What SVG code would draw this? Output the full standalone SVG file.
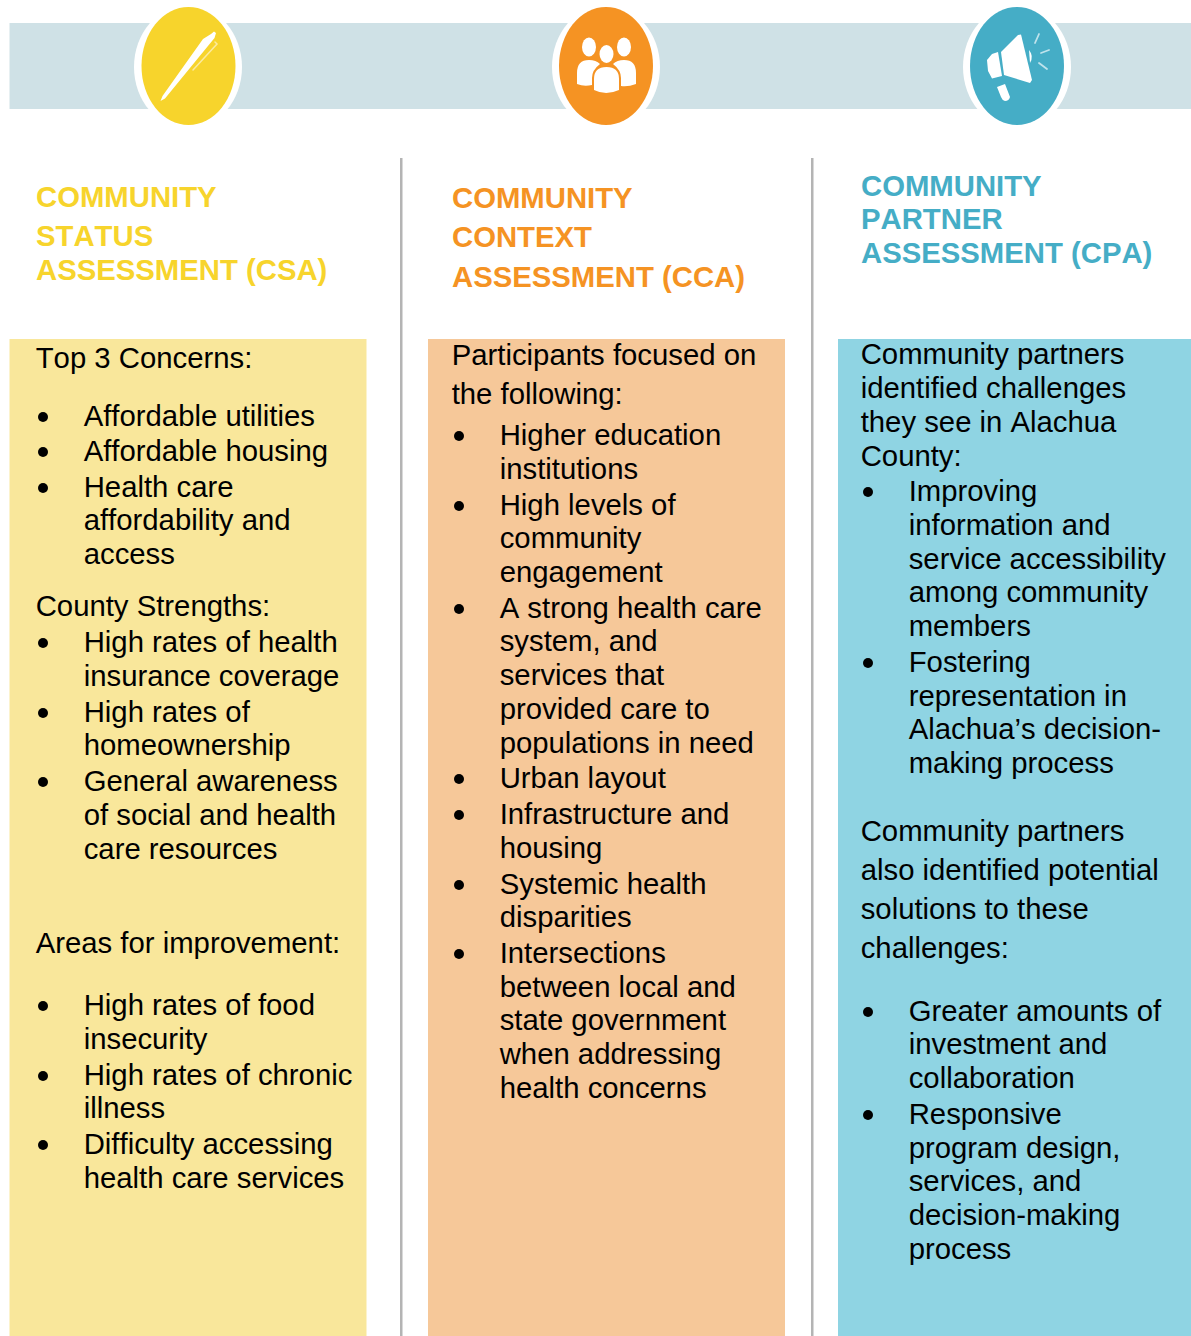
<svg xmlns="http://www.w3.org/2000/svg" width="1191" height="1336" viewBox="0 0 1191 1336">
<style>
text{font-family:"Liberation Sans",Arial,sans-serif;font-size:29.3px;fill:#000;font-kerning:none}
.h{font-weight:bold}
text.y{fill:#f7d42c}text.o{fill:#f59323}text.b{fill:#45adc6}
.wl{stroke-linecap:round;fill:none}
circle.d{fill:#000}
</style>
<rect width="1191" height="1336" fill="#fff"/>
<rect x="9.5" y="23" width="1181.5" height="86" fill="#cfe1e6"/>
<rect x="9.5" y="339" width="357" height="997" fill="#f9e79b"/>
<rect x="428" y="339" width="357" height="997" fill="#f6c899"/>
<rect x="838" y="339" width="353" height="997" fill="#8fd4e3"/>
<rect x="400" y="158" width="2.5" height="1178" fill="#b4b4b4"/>
<rect x="811" y="158" width="2.5" height="1178" fill="#b4b4b4"/>

<g id="icon-csa">
<ellipse cx="188" cy="67" rx="54" ry="62" fill="#fff"/>
<ellipse cx="188.500" cy="66" rx="47" ry="59" fill="#f7d42c"/>
<path fill="#fff" d="M160.500 101 L162.500 96 L203 39 L211 34 L214 31.500 L216 33 L214.500 38 L165 98.500 Z"/>
<path class="wl" d="M215 42 L217 44 L193 70" stroke="#fbeaa0" stroke-width="1.500"/>
</g>
<g id="icon-cca">
<ellipse cx="606" cy="67" rx="54" ry="62" fill="#fff"/>
<ellipse cx="606" cy="66" rx="47" ry="59" fill="#f59323"/>
<g fill="#fff">
<ellipse cx="589" cy="47" rx="7" ry="9.500"/><ellipse cx="624" cy="47" rx="7" ry="9.500"/>
<path d="M577 84 V73 Q577 60 589 60 Q596 60 600 64 Q592 70 592 78 V85 Q584 87 577 84Z"/>
<path d="M636 84 V73 Q636 60 624 60 Q617 60 613 64 Q621 70 621 78 V86 Q628 87 636 84Z"/>
<ellipse cx="606.500" cy="54" rx="7" ry="9"/>
<path d="M594 90 V79 Q594 67 606.500 67 Q619 67 619 79 V90 Q606 96 594 90Z"/>
</g>
</g>
<g id="icon-cpa">
<ellipse cx="1017" cy="67" rx="54" ry="62" fill="#fff"/>
<ellipse cx="1017" cy="66" rx="47" ry="59" fill="#45adc6"/>
<g fill="#fff">
<path d="M1001 52 L1018 35 L1021 34.500 L1032 80 L1030 83 L1004 75 Z"/>
<path d="M987 60 L992 54 L998 52 L1002 76 L992 78.500 L988 71 Z"/>
<path d="M997 87 L1005 84 L1010 97 Q1009 101 1005 101 Q1002 100 1001 97 Z"/>
<path d="M1029 50 Q1034 56 1030 63 Z"/>
</g>
<path class="wl" d="M1035 43 L1039 34 M1041 53 L1049 50 M1039 63 L1047 69" stroke="#bfe3ec" stroke-width="1.800"/>
</g>

<g id="col-csa">
<text class="h y" x="36" y="207">COMMUNITY</text>
<text class="h y" x="36" y="246">STATUS</text>
<text class="h y" x="36" y="280">ASSESSMENT (CSA)</text>
<text x="35.700" y="368">Top 3 Concerns:</text>
<text x="83.700" y="426">Affordable utilities</text>
<text x="83.700" y="461">Affordable housing</text>
<text x="83.700" y="497">Health care</text>
<text x="83.700" y="530">affordability and</text>
<text x="83.700" y="564">access</text>
<text x="35.700" y="616">County Strengths:</text>
<text x="83.700" y="652">High rates of health</text>
<text x="83.700" y="686">insurance coverage</text>
<text x="83.700" y="722">High rates of</text>
<text x="83.700" y="755">homeownership</text>
<text x="83.700" y="791">General awareness</text>
<text x="83.700" y="825">of social and health</text>
<text x="83.700" y="859">care resources</text>
<text x="35.700" y="953">Areas for improvement:</text>
<text x="83.700" y="1015">High rates of food</text>
<text x="83.700" y="1049">insecurity</text>
<text x="83.700" y="1085">High rates of chronic</text>
<text x="83.700" y="1118">illness</text>
<text x="83.700" y="1154">Difficulty accessing</text>
<text x="83.700" y="1188">health care services</text>
<g>
<circle class="d" cx="43" cy="417" r="5"/><circle class="d" cx="43" cy="452" r="5"/><circle class="d" cx="43" cy="488" r="5"/>
<circle class="d" cx="43" cy="643" r="5"/><circle class="d" cx="43" cy="713" r="5"/><circle class="d" cx="43" cy="782" r="5"/>
<circle class="d" cx="43" cy="1006" r="5"/><circle class="d" cx="43" cy="1076" r="5"/><circle class="d" cx="43" cy="1145" r="5"/>
</g>
</g>

<g id="col-cca">
<text class="h o" x="452" y="208">COMMUNITY</text>
<text class="h o" x="452" y="247">CONTEXT</text>
<text class="h o" x="452" y="287">ASSESSMENT (CCA)</text>
<text x="451.700" y="365">Participants focused on</text>
<text x="451.700" y="404">the following:</text>
<text x="499.700" y="445">Higher education</text>
<text x="499.700" y="479">institutions</text>
<text x="499.700" y="515">High levels of</text>
<text x="499.700" y="548">community</text>
<text x="499.700" y="582">engagement</text>
<text x="499.700" y="618">A strong health care</text>
<text x="499.700" y="651">system, and</text>
<text x="499.700" y="685">services that</text>
<text x="499.700" y="719">provided care to</text>
<text x="499.700" y="753">populations in need</text>
<text x="499.700" y="788">Urban layout</text>
<text x="499.700" y="824">Infrastructure and</text>
<text x="499.700" y="858">housing</text>
<text x="499.700" y="894">Systemic health</text>
<text x="499.700" y="927">disparities</text>
<text x="499.700" y="963">Intersections</text>
<text x="499.700" y="997">between local and</text>
<text x="499.700" y="1030">state government</text>
<text x="499.700" y="1064">when addressing</text>
<text x="499.700" y="1098">health concerns</text>
<g>
<circle class="d" cx="459" cy="436" r="5"/><circle class="d" cx="459" cy="506" r="5"/><circle class="d" cx="459" cy="609" r="5"/>
<circle class="d" cx="459" cy="779" r="5"/><circle class="d" cx="459" cy="815" r="5"/><circle class="d" cx="459" cy="885" r="5"/><circle class="d" cx="459" cy="954" r="5"/>
</g>
</g>

<g id="col-cpa">
<text class="h b" x="861" y="196">COMMUNITY</text>
<text class="h b" x="861" y="229">PARTNER</text>
<text class="h b" x="861" y="263">ASSESSMENT (CPA)</text>
<text x="860.700" y="364">Community partners</text>
<text x="860.700" y="398">identified challenges</text>
<text x="860.700" y="432">they see in Alachua</text>
<text x="860.700" y="466">County:</text>
<text x="908.700" y="501">Improving</text>
<text x="908.700" y="535">information and</text>
<text x="908.700" y="569">service accessibility</text>
<text x="908.700" y="602">among community</text>
<text x="908.700" y="636">members</text>
<text x="908.700" y="672">Fostering</text>
<text x="908.700" y="706">representation in</text>
<text x="908.700" y="739">Alachua’s decision-</text>
<text x="908.700" y="773">making process</text>
<text x="860.700" y="841">Community partners</text>
<text x="860.700" y="880">also identified potential</text>
<text x="860.700" y="919">solutions to these</text>
<text x="860.700" y="958">challenges:</text>
<text x="908.700" y="1021">Greater amounts of</text>
<text x="908.700" y="1054">investment and</text>
<text x="908.700" y="1088">collaboration</text>
<text x="908.700" y="1124">Responsive</text>
<text x="908.700" y="1158">program design,</text>
<text x="908.700" y="1191">services, and</text>
<text x="908.700" y="1225">decision-making</text>
<text x="908.700" y="1259">process</text>
<g>
<circle class="d" cx="868" cy="492" r="5"/><circle class="d" cx="868" cy="663" r="5"/><circle class="d" cx="868" cy="1012" r="5"/><circle class="d" cx="868" cy="1115" r="5"/>
</g>
</g>
</svg>
